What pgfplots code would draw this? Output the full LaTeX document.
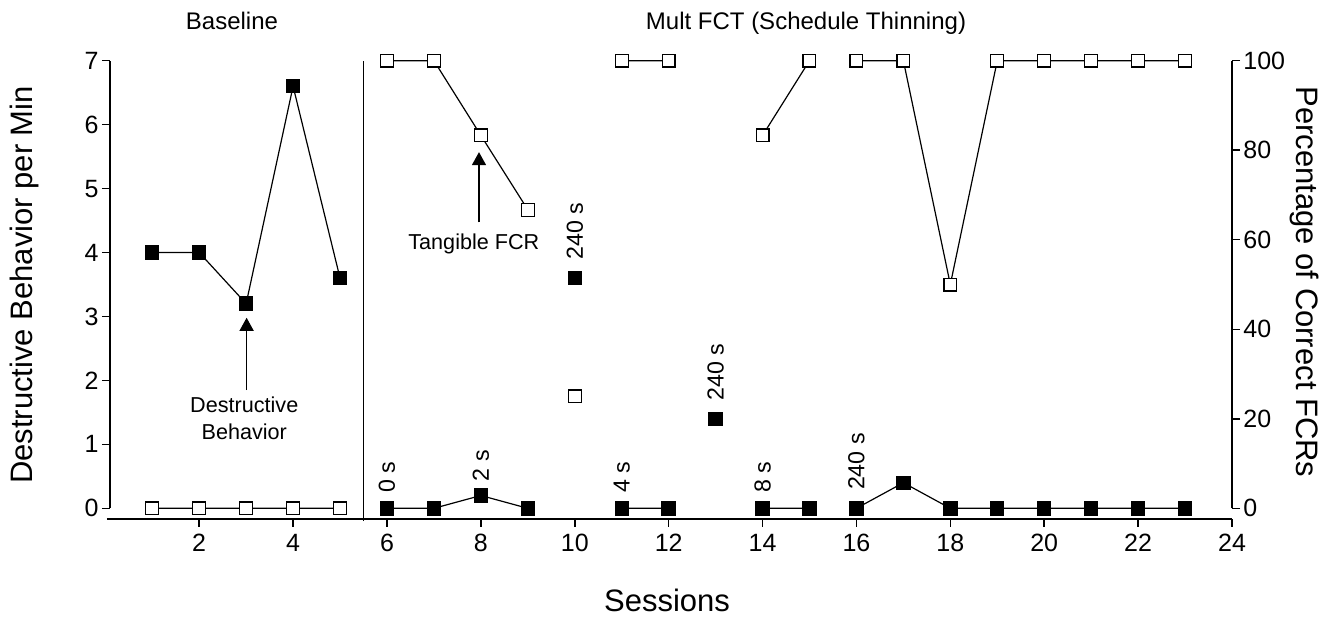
\documentclass[border=0pt]{standalone}
\usepackage{pgfplots}
\pgfplotsset{compat=1.18}
\usepackage{pgfplotstable}
\usepackage{fontspec}
\setmainfont{Liberation Sans}
\usetikzlibrary{arrows.meta}

\pgfplotstableread{
x y
1 4.0
2 4.0
3 3.2
4 6.6
5 3.6
5.5 nan
6 0
7 0
8 0.2
9 0
9.5 nan
10 3.6
10.5 nan
11 0
12 0
12.5 nan
13 1.4
13.5 nan
14 0
15 0
15.5 nan
16 0
17 0.4
18 0
19 0
20 0
21 0
22 0
23 0
}\destr

\pgfplotstableread{
x y
1 0
2 0
3 0
4 0
5 0
5.5 nan
6 100
7 100
8 83.3
9 66.7
9.5 nan
10 25
10.5 nan
11 100
12 100
12.5 nan
14 83.3
15 100
15.5 nan
16 100
17 100
18 50
19 100
20 100
21 100
22 100
23 100
}\fcr

\begin{document}
\begin{tikzpicture}
\useasboundingbox (0,0) rectangle (670pt,310pt);
\pgfplotsset{
  common/.style={
    at={(55pt,50.5pt)}, anchor=south west, scale only axis,
    width=561pt, height=229.15pt, xmin=0.1, xmax=24, clip=false,
    axis line style={draw=none},
    tick align=outside, major tick length=4pt,
    tick style={black, line width=0.75pt},
    ticklabel style={font=\fontsize{12.5}{14}\selectfont},
    yticklabel style={inner sep=1.5pt},
    /pgf/number format/assume math mode=true,
    unbounded coords=jump,
  }
}
\begin{axis}[common, ymin=-0.167, ymax=7,
  axis x line*=bottom, axis y line*=left,
  xtick={2,4,...,24}, ytick={0,1,...,7}]
  \draw[line width=0.75pt] (axis cs:0.034,-0.167) -- (axis cs:24,-0.167);
  \draw[line width=0.75pt] (axis cs:0.1,0) -- (axis cs:0.1,7);
  \draw[line width=0.75pt] (axis cs:24,0) -- (axis cs:24,7);
  \draw[line width=0.65pt] (axis cs:5.5,-0.2) -- (axis cs:5.5,7);
  \addplot[black, line width=0.6pt, mark=square*, mark size=3.3pt,
    mark options={fill=black, solid}] table[x=x,y=y] {\destr};
  % annotations
  \draw[line width=0.6pt, -{Triangle[width=7pt,length=6.5pt]}] (axis cs:3.01,1.85) -- (axis cs:3.01,2.98);
  \node[anchor=north, inner sep=0pt, align=center, font=\fontsize{10.8}{13.3}\selectfont]
    at ([yshift=-3.3pt]axis cs:2.96,1.85) {Destructive\\Behavior};
  \draw[line width=0.6pt, -{Triangle[width=7pt,length=6.5pt]}] (axis cs:7.96,4.47) -- (axis cs:7.96,5.57);
  \node[anchor=north, inner sep=0pt, font=\fontsize{10.8}{13}\selectfont]
    at ([yshift=-5.3pt]axis cs:7.85,4.47) {Tangible FCR};
  \begin{scope}[every node/.style={rotate=90, anchor=west, inner sep=0pt, font=\fontsize{11.6}{13}\selectfont}]
    \node at ([yshift=7.5pt]axis cs:6,0) {0 s};
    \node at ([yshift=7pt]axis cs:8,0.2) {2 s};
    \node at ([yshift=9pt]axis cs:10,3.6) {240 s};
    \node at ([yshift=7.5pt]axis cs:11,0) {4 s};
    \node at ([yshift=9pt]axis cs:13,1.4) {240 s};
    \node at ([yshift=7.5pt]axis cs:14,0) {8 s};
    \node at ([yshift=9pt]axis cs:16,0) {240 s};
  \end{scope}
\end{axis}
\begin{axis}[common, ymin=-2.386, ymax=100,
  axis x line=none, axis y line*=right,
  ytick={0,20,...,100}]
  \addplot[black, line width=0.6pt, mark=square*, mark size=3.2pt,
    mark options={fill=white, solid, line width=0.6pt}] table[x=x,y=y] {\fcr};
\end{axis}
\node[font=\fontsize{15.5}{18}\selectfont] at (333.5pt,10pt) {Sessions};
\node[rotate=90, font=\fontsize{15.5}{18}\selectfont] at (12pt,167.5pt) {Destructive Behavior per Min};
\node[rotate=-90, font=\fontsize{15.5}{18}\selectfont] at (652pt,169pt) {Percentage of Correct FCRs};
\node[anchor=base, font=\fontsize{12}{14}\selectfont] at (116pt,295pt) {Baseline};
\node[anchor=base, font=\fontsize{12}{14}\selectfont] at (403pt,295pt) {Mult FCT (Schedule Thinning)};
\end{tikzpicture}
\end{document}
